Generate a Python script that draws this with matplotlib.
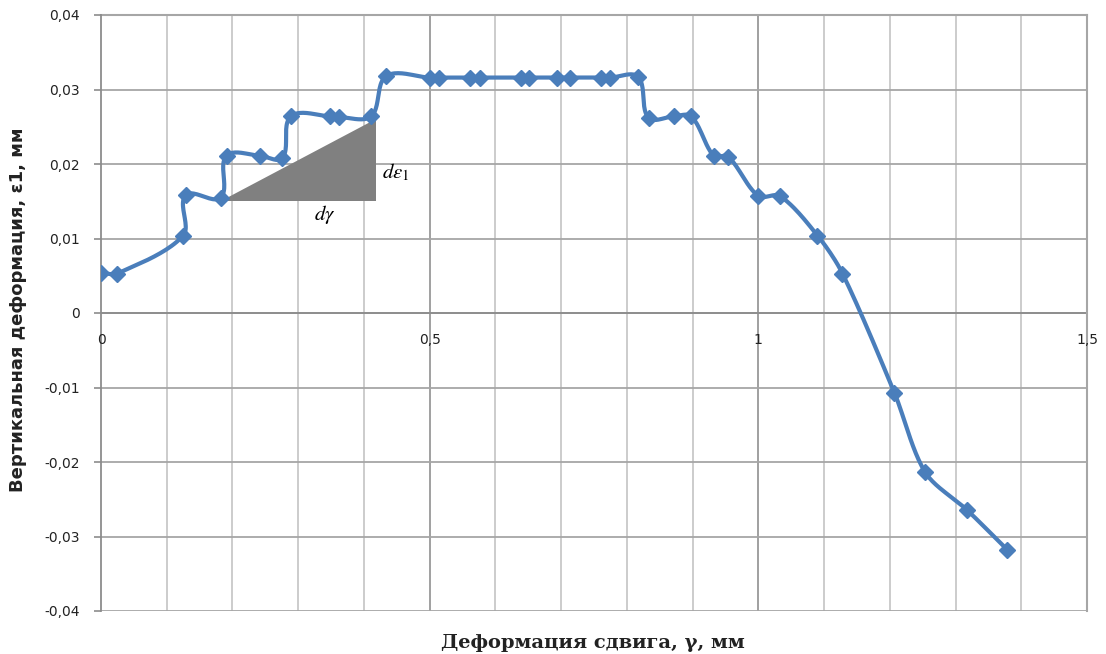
import numpy as np
import matplotlib
matplotlib.use("Agg")
import matplotlib.pyplot as plt
from matplotlib.patches import Polygon

plt.rcParams["mathtext.fontset"] = "stix"

# ---- data ----
gamma = [0.0, 0.025, 0.125, 0.129, 0.182, 0.191, 0.242, 0.276, 0.289, 0.349, 0.362, 0.411,
         0.434, 0.500, 0.514, 0.561, 0.576, 0.639, 0.651, 0.693, 0.714, 0.761, 0.775, 0.817,
         0.833, 0.871, 0.898, 0.932, 0.954, 1.000, 1.033, 1.090, 1.128, 1.207, 1.254, 1.317, 1.379]
eps1 = [0.0054, 0.0053, 0.0104, 0.0158, 0.0155, 0.0211, 0.0211, 0.0208, 0.0264, 0.0264, 0.0263, 0.0264,
        0.0318, 0.0316, 0.0316, 0.0316, 0.0316, 0.0316, 0.0316, 0.0316, 0.0316, 0.0316, 0.0316, 0.0317,
        0.0262, 0.0264, 0.0264, 0.0211, 0.0210, 0.0157, 0.0157, 0.0104, 0.0053, -0.0107, -0.0214, -0.0264, -0.0318]
x_ticks = [0, 0.5, 1, 1.5]
x_tick_labels = ["0", "0,5", "1", "1,5"]
y_ticks = [-0.04, -0.03, -0.02, -0.01, 0, 0.01, 0.02, 0.03, 0.04]
y_tick_labels = ["-0,04", "-0,03", "-0,02", "-0,01", "0", "0,01", "0,02", "0,03", "0,04"]
x_label = "Деформация сдвига, γ, мм"
y_label = "Вертикальная деформация, ε1, мм"
tri_from, tri_to = 4, 11  # triangle spans between these data points

LINE = "#4a7ebb"


def smooth(xs, ys, sx, sy, n=24, k=0.3):
    # Bezier smoothing in screen-like space (scaled by sx, sy), tangent arms limited
    p = np.column_stack([np.asarray(xs) * sx, np.asarray(ys) * sy]).astype(float)
    m = len(p)
    out = [p[0]]
    for i in range(m - 1):
        p0 = p[i - 1] if i > 0 else p[i]
        p1 = p[i]
        p2 = p[i + 1]
        p3 = p[i + 2] if i + 2 < m else p[i + 1]
        L = np.linalg.norm(p2 - p1)
        t1 = p2 - p0
        t2 = p3 - p1
        t1 = t1 / (np.linalg.norm(t1) + 1e-12)
        t2 = t2 / (np.linalg.norm(t2) + 1e-12)
        c1 = p1 + t1 * k * L
        c2 = p2 - t2 * k * L
        t = np.linspace(0, 1, n)[1:, None]
        seg = ((1 - t) ** 3) * p1 + 3 * ((1 - t) ** 2) * t * c1 + 3 * (1 - t) * t ** 2 * c2 + t ** 3 * p2
        out.extend(seg)
    out = np.array(out)
    return out[:, 0] / sx, out[:, 1] / sy


fig = plt.figure(figsize=(11.06, 6.54), dpi=100)
ax = fig.add_axes([101 / 1106, 43 / 654, 986 / 1106, 596 / 654])
ax.set_xlim(0, 1.5)
ax.set_ylim(-0.04, 0.04)

# grid
for v in np.arange(0.1, 1.5001, 0.1):
    major = abs(v - round(v * 2) / 2) < 1e-9
    ax.axvline(v, color="#999999" if major else "#c8c8c8", lw=1.3, zorder=0)
for h in y_ticks:
    ax.axhline(h, color="#a6a6a6", lw=1.3, zorder=0)

for s in ["top", "right", "bottom"]:
    ax.spines[s].set_visible(False)
ax.spines["left"].set_color("#8c8c8c")
ax.spines["left"].set_linewidth(1.3)
ax.axhline(0, color="#8c8c8c", lw=1.3, zorder=1)
ax.axhline(0.04, color="#a6a6a6", lw=1.5, zorder=1, clip_on=False)
ax.axvline(1.5, color="#a6a6a6", lw=1.5, zorder=1, clip_on=False)

ax.set_yticks(y_ticks)
ax.set_yticklabels(y_tick_labels)
ax.tick_params(axis="y", direction="out", length=5, width=1.2, color="#8c8c8c",
               labelsize=10, pad=10, labelcolor="#222222")
ax.set_xticks([])
for xv, lab in zip(x_ticks, x_tick_labels):
    ax.annotate(lab, xy=(xv, 0), xytext=(0, -27), textcoords="offset pixels",
                ha="center", va="center", fontsize=10, color="#222222")

# triangle annotation
x0, y0 = gamma[tri_from], eps1[tri_from] - 0.0004
x1, y1 = gamma[tri_to] + 0.007, eps1[tri_to] - 0.0003
ax.add_patch(Polygon([[x0, y0], [x1, y0], [x1, y1]], closed=True, facecolor="#808080",
                     edgecolor="none", zorder=2))
ax.text((x0 + x1) / 2 + 0.04, y0 - 0.0019, r"$d\gamma$", fontsize=15, ha="center", va="center")
ax.text(x1 + 0.009, (y0 + y1) / 2 - 0.0017, r"$d\varepsilon_1$", fontsize=15, ha="left", va="center")

sx, sy = smooth(gamma, eps1, 658.0, 7450.0)
ax.plot(sx, sy, color=LINE, lw=3, zorder=3, solid_capstyle="round")
ax.plot(gamma, eps1, linestyle="none", marker="D", markersize=8, color=LINE, zorder=4)

fig.text(18 / 1106, 1 - 310 / 654, y_label, rotation=90, ha="center", va="center",
         fontsize=13, fontweight="bold", color="#222222")
fig.text(593 / 1106, 1 - 643 / 654, x_label, ha="center", va="center",
         fontsize=14, fontweight="bold", family="DejaVu Serif", color="#222222")

fig.savefig("out.png", dpi=100)
